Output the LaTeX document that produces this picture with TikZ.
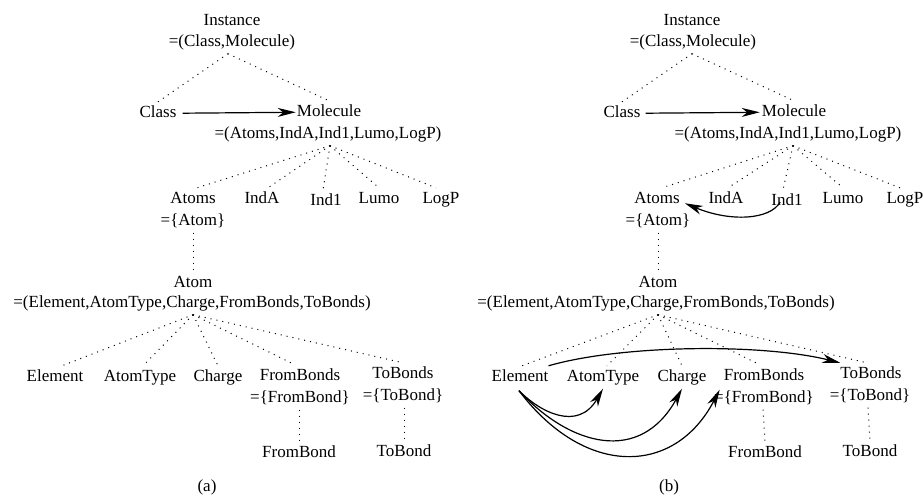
\documentclass[tikz,border=0pt]{standalone}
\usepackage{fontspec}
\setmainfont{Liberation Serif}
\usetikzlibrary{arrows.meta,calc}
\begin{document}
\begin{tikzpicture}[x=1pt,y=-1pt,
  lbl/.style={anchor=base,inner xsep=0pt,inner ysep=3.5pt,text height=11.5pt,text depth=4pt,font=\fontsize{17}{20}\selectfont},
  dots/.style={line width=1pt,dash pattern=on 1pt off 5pt},
  arr/.style={line width=1.2pt,-{Stealth[length=18pt,width=9pt,inset=5.5pt]}}]
\useasboundingbox (0,0) rectangle (923,496);

% ---------------- (a) ----------------
\node[lbl] (inst) at (232,25) {Instance};
\node[lbl] (instT) at (232,46) {=(Class,Molecule)};
\node[lbl] (class) at (158,117) {Class};
\node[lbl] (mol) at (329,116) {Molecule};
\node[lbl] (molT) at (328,138) {=(Atoms,IndA,Ind1,Lumo,LogP)};
\node[lbl] (atoms) at (193,203) {Atoms};
\node[lbl] (atomsT) at (193,225) {=\{Atom\}};
\node[lbl] (indA) at (262,203) {IndA};
\node[lbl] (ind1) at (326,205) {Ind1};
\node[lbl] (lumo) at (379,203) {Lumo};
\node[lbl] (logp) at (441,203) {LogP};
\node[lbl] (atom) at (193,287) {Atom};
\node[lbl] (atomT) at (192,307) {=(Element,AtomType,Charge,FromBonds,ToBonds)};
\node[lbl] (el) at (55,381) {Element};
\node[lbl] (atype) at (140,381) {AtomType};
\node[lbl] (ch) at (218,381) {Charge};
\node[lbl] (fb) at (300,380) {FromBonds};
\node[lbl] (fbT) at (300,402) {=\{FromBond\}};
\node[lbl] (fbond) at (299,457) {FromBond};
\node[lbl] (tb) at (403,378) {ToBonds};
\node[lbl] (tbT) at (403,400) {=\{ToBond\}};
\node[lbl] (tbond) at (404,456) {ToBond};
\node[lbl] (capA) at (207,491) {(a)};

\coordinate (instA) at ($(instT.south)+(-4,0)$);
\coordinate (molA) at ($(molT.south)+(2,0)$);
\coordinate (atomA) at ($(atomT.south)+(1,0)$);

\draw[dots] (instA) -- (class.north);
\draw[dots] (instA) -- (mol.north);
\draw[arr,shorten <=6pt,shorten >=1pt] (class.east) -- (mol.west);
\draw[dots] (molA) -- ($(atoms.north)+(4,0)$);
\draw[dots] (molA) -- ($(indA.north)+(6,0)$);
\draw[dots] (molA) -- ($(ind1.north)+(-3,0)$);
\draw[dots] (molA) -- (lumo.north);
\draw[dots] (molA) -- ($(logp.north)+(-5,0)$);
\draw[dots] (atomsT.south) -- (atom.north);
\draw[dots] (atomA) -- ($(el.north)+(7,0)$);
\draw[dots] (atomA) -- ($(atype.north)+(3,0)$);
\draw[dots] (atomA) -- (ch.north);
\draw[dots] (atomA) -- ($(fb.north)+(-5,0)$);
\draw[dots] (atomA) -- (tb.north);
\draw[dots] ($(fbT.south)+(-1,0)$) -- (fbond.north);
\draw[dots] ($(tbT.south)+(1,0)$) -- (tbond.north);

% ---------------- (b) ----------------
\node[lbl] (inst2) at (692,25) {Instance};
\node[lbl] (instT2) at (693,46) {=(Class,Molecule)};
\node[lbl] (class2) at (622,117) {Class};
\node[lbl] (mol2) at (794,116) {Molecule};
\node[lbl] (molT2) at (788,138) {=(Atoms,IndA,Ind1,Lumo,LogP)};
\node[lbl] (atoms2) at (657,203) {Atoms};
\node[lbl] (atomsT2) at (658,225) {=\{Atom\}};
\node[lbl] (indA2) at (726,203) {IndA};
\node[lbl] (ind12) at (787,205) {Ind1};
\node[lbl] (lumo2) at (843,203) {Lumo};
\node[lbl] (logp2) at (905,203) {LogP};
\node[lbl] (atom2) at (658,287) {Atom};
\node[lbl] (atomT2) at (656,307) {=(Element,AtomType,Charge,FromBonds,ToBonds)};
\node[lbl] (el2) at (520,381) {Element};
\node[lbl] (atype2) at (603,381) {AtomType};
\node[lbl] (ch2) at (682,381) {Charge};
\node[lbl] (fb2) at (764,380) {FromBonds};
\node[lbl] (fbT2) at (764,402) {=\{FromBond\}};
\node[lbl] (fbond2) at (765,457) {FromBond};
\node[lbl] (tb2) at (871,378) {ToBonds};
\node[lbl] (tbT2) at (870,400) {=\{ToBond\}};
\node[lbl] (tbond2) at (870,456) {ToBond};
\node[lbl] (capB) at (669,491) {(b)};

\coordinate (instA2) at ($(instT2.south)+(-1,0)$);
\coordinate (molA2) at ($(molT2.south)+(5,0)$);
\coordinate (atomA2) at ($(atomT2.south)+(2,0)$);

\draw[dots] (instA2) -- (class2.north);
\draw[dots] (instA2) -- (mol2.north);
\draw[arr,shorten <=5pt,shorten >=2pt] (class2.east) -- (mol2.west);
\draw[dots] (molA2) -- ($(atoms2.north)+(5,0)$);
\draw[dots] (molA2) -- ($(indA2.north)+(2,0)$);
\draw[dots] (molA2) -- ($(ind12.north)+(-4,0)$);
\draw[dots] (molA2) -- (lumo2.north);
\draw[dots] (molA2) -- ($(logp2.north)+(-5,0)$);
\draw[dots] (atomsT2.south) -- (atom2.north);
\draw[dots] (atomA2) -- ($(el2.north)+(2,0)$);
\draw[dots] (atomA2) -- ($(atype2.north)+(4,0)$);
\draw[dots] (atomA2) -- (ch2.north);
\draw[dots] (atomA2) -- ($(fb2.north)+(-4,0)$);
\draw[dots] (atomA2) -- ($(tb2.north)+(-4,0)$);
\draw[dots] ($(fbT2.south)+(-1,0)$) -- (fbond2.north);
\draw[dots] ($(tbT2.south)+(-2,0)$) -- (tbond2.north);

% curved arrows
\draw[arr] ($(ind12.base west)+(9,-3)$) .. controls (770,220) and (730,222) .. ($(atoms2.east)+(5,4)$);
\draw[arr] (el2.north east) .. controls (620,345) and (760,343) .. (tb2.north west);
\draw[arr] ($(el2.south)+(-1,2)$) .. controls (540,412) and (578,432) .. (atype2.south);
\draw[arr] ($(el2.south)+(-1,2)$) .. controls (570,446) and (640,465) .. (ch2.south);
\draw[arr] ($(el2.south)+(-1,2)$) .. controls (585,478) and (675,476) .. ($(fb2.south west)+(-4,2)$);
\end{tikzpicture}
\end{document}
